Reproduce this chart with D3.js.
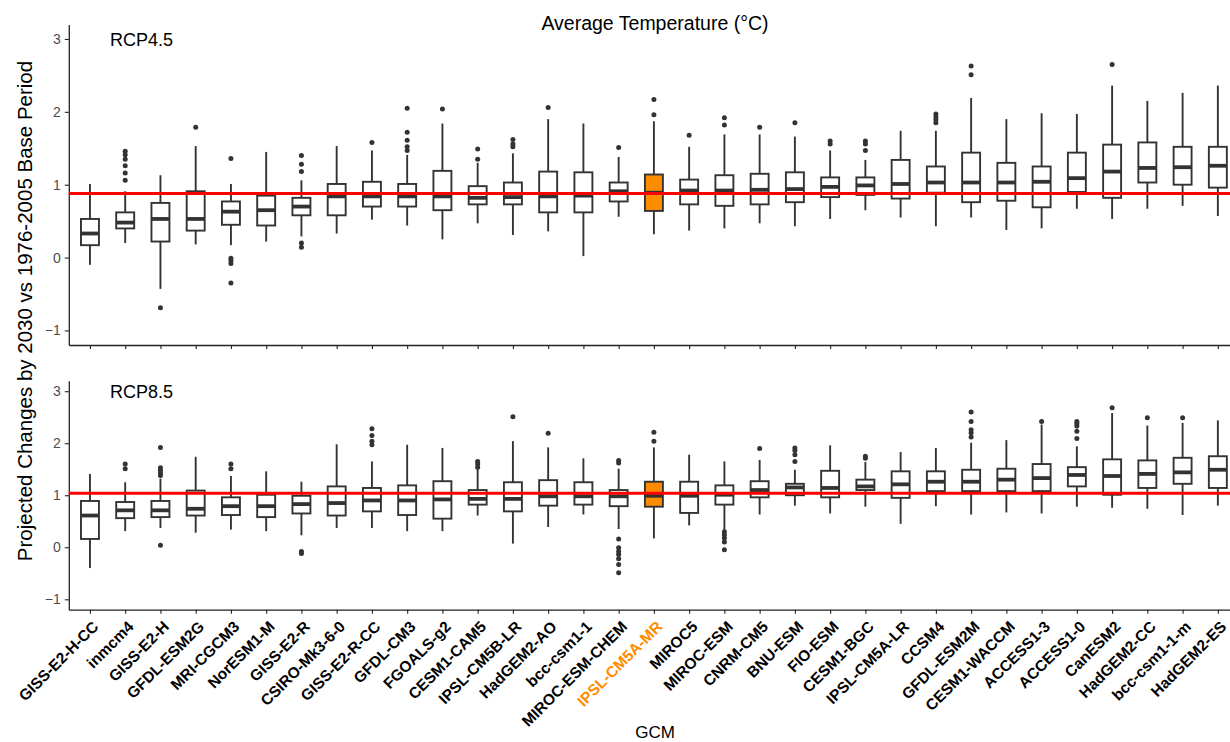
<!DOCTYPE html>
<html>
<head>
<meta charset="utf-8">
<script src="https://cdn.jsdelivr.net/npm/d3@7"></script>
<style>
  body { margin: 0; background: #fff; }
  svg { font-family: "Liberation Sans", Arial, sans-serif; }
</style>
</head>
<body>
<div id="chart"></div>
<script>
// GCM order on the x axis
var gcms = ["GISS-E2-H-CC", "inmcm4", "GISS-E2-H", "GFDL-ESM2G", "MRI-CGCM3", "NorESM1-M",
  "GISS-E2-R", "CSIRO-Mk3-6-0", "GISS-E2-R-CC", "GFDL-CM3", "FGOALS-g2", "CESM1-CAM5",
  "IPSL-CM5B-LR", "HadGEM2-AO", "bcc-csm1-1", "MIROC-ESM-CHEM", "IPSL-CM5A-MR", "MIROC5",
  "MIROC-ESM", "CNRM-CM5", "BNU-ESM", "FIO-ESM", "CESM1-BGC", "IPSL-CM5A-LR", "CCSM4",
  "GFDL-ESM2M", "CESM1-WACCM", "ACCESS1-3", "ACCESS1-0", "CanESM2", "HadGEM2-CC",
  "bcc-csm1-1-m", "HadGEM2-ES"];
var highlight = "IPSL-CM5A-MR";
var yTicks = [-1, 0, 1, 2, 3];

// RCP4.5 box statistics
var rcp45Low = [-0.10, 0.20, -0.43, 0.18, 0.17, 0.22, 0.29, 0.33, 0.52, 0.44, 0.25, 0.47,
  0.31, 0.36, 0.02, 0.56, 0.32, 0.37, 0.40, 0.47, 0.43, 0.53, 0.65, 0.55, 0.43, 0.55,
  0.38, 0.40, 0.67, 0.53, 0.67, 0.71, 0.57];
var rcp45Q1 = [0.17, 0.40, 0.22, 0.37, 0.45, 0.44, 0.58, 0.58, 0.70, 0.70, 0.65, 0.73,
  0.73, 0.62, 0.62, 0.77, 0.64, 0.73, 0.71, 0.73, 0.76, 0.83, 0.86, 0.81, 0.89, 0.76,
  0.78, 0.69, 0.90, 0.82, 1.03, 1.00, 0.96];
var rcp45Med = [0.33, 0.48, 0.53, 0.53, 0.63, 0.65, 0.70, 0.84, 0.84, 0.84, 0.84, 0.82,
  0.83, 0.84, 0.85, 0.91, 0.89, 0.92, 0.92, 0.93, 0.94, 0.97, 0.99, 1.01, 1.03, 1.03,
  1.03, 1.04, 1.09, 1.18, 1.23, 1.24, 1.26];
var rcp45Q3 = [0.53, 0.62, 0.75, 0.91, 0.77, 0.85, 0.82, 1.01, 1.04, 1.01, 1.19, 0.98,
  1.03, 1.18, 1.17, 1.03, 1.14, 1.07, 1.13, 1.15, 1.17, 1.10, 1.10, 1.34, 1.25, 1.44,
  1.30, 1.25, 1.44, 1.55, 1.58, 1.52, 1.52];
var rcp45High = [1.01, 0.91, 1.13, 1.53, 1.01, 1.45, 1.06, 1.53, 1.47, 1.41, 1.84, 1.30,
  1.43, 1.90, 1.84, 1.38, 1.87, 1.52, 1.69, 1.69, 1.66, 1.47, 1.34, 1.74, 1.74, 2.19,
  1.90, 1.98, 1.97, 2.36, 2.15, 2.26, 2.36];
var rcp45Out = [[], [1.46, 1.41, 1.35, 1.26, 1.16, 1.06], [-0.69], [1.79],
  [1.36, -0.01, -0.04, -0.08, -0.35], [], [1.40, 1.28, 1.18, 0.20, 0.14], [], [1.58],
  [2.05, 1.72, 1.61, 1.52, 1.47], [2.04], [1.49, 1.35], [1.62, 1.56, 1.52], [2.06], [],
  [1.51], [2.17, 1.96], [1.68], [1.92, 1.82], [1.79], [1.85], [1.60, 1.56],
  [1.60, 1.56, 1.47], [], [1.97, 1.93, 1.89, 1.85], [2.63, 2.51], [], [], [], [2.65],
  [], [], []];
var rcp45Ref = 0.88;

// RCP8.5 box statistics
var rcp85Low = [-0.40, 0.31, 0.37, 0.28, 0.34, 0.31, 0.23, 0.37, 0.37, 0.31, 0.31, 0.61,
  0.07, 0.39, 0.63, 0.35, 0.17, 0.42, 0.32, 0.63, 0.80, 0.65, 0.78, 0.45, 0.79, 0.63,
  0.67, 0.65, 0.78, 0.76, 0.74, 0.62, 0.80];
var rcp85Q1 = [0.16, 0.56, 0.58, 0.61, 0.62, 0.58, 0.65, 0.61, 0.69, 0.62, 0.55, 0.82,
  0.69, 0.80, 0.82, 0.79, 0.78, 0.66, 0.82, 0.96, 1.00, 0.96, 1.10, 0.95, 1.08, 1.08,
  1.08, 1.08, 1.17, 1.01, 1.14, 1.22, 1.14];
var rcp85Med = [0.61, 0.71, 0.71, 0.74, 0.79, 0.79, 0.83, 0.85, 0.90, 0.90, 0.92, 0.93,
  0.93, 0.98, 0.98, 0.98, 0.99, 0.99, 1.01, 1.10, 1.15, 1.14, 1.17, 1.21, 1.26, 1.26,
  1.30, 1.33, 1.39, 1.37, 1.41, 1.44, 1.49];
var rcp85Q3 = [0.89, 0.87, 0.89, 1.09, 0.96, 1.01, 0.99, 1.17, 1.14, 1.19, 1.27, 1.10,
  1.25, 1.29, 1.25, 1.10, 1.26, 1.26, 1.19, 1.27, 1.22, 1.47, 1.30, 1.46, 1.46, 1.49,
  1.51, 1.60, 1.54, 1.69, 1.67, 1.72, 1.75];
var rcp85High = [1.41, 1.25, 1.32, 1.74, 1.37, 1.46, 1.26, 1.98, 1.65, 1.97, 1.91, 1.51,
  2.04, 1.92, 1.71, 1.51, 1.92, 1.78, 1.65, 1.68, 1.49, 1.96, 1.64, 1.83, 1.91, 2.01,
  2.06, 2.36, 1.94, 2.58, 2.34, 2.39, 2.44];
var rcp85Out = [[], [1.60, 1.51], [1.92, 1.53, 1.48, 1.43, 1.38, 0.04], [], [1.60, 1.51],
  [], [-0.08, -0.12], [], [2.28, 2.15, 2.04, 1.97], [], [], [1.65, 1.60, 1.54], [2.51],
  [2.19], [], [1.67, 1.62, 0.16, -0.01, -0.08, -0.14, -0.22, -0.33, -0.49],
  [2.21, 2.04], [], [0.30, 0.24, 0.18, 0.10, -0.05], [1.90], [1.91, 1.86, 1.78, 1.65],
  [], [1.75, 1.71], [], [], [2.60, 2.42, 2.26, 2.20, 2.12], [], [2.42],
  [2.42, 2.38, 2.33, 2.23, 2.09], [2.68], [2.49], [2.49], []];
var rcp85Ref = 1.04;

var width = 1230, height = 742;
var svg = d3.select("#chart").append("svg")
  .attr("width", width).attr("height", height);

var x = d3.scalePoint().domain(gcms).range([68.8, 1239]).padding(0.6);
var boxW = x.step() * 0.51;
var ink = "#333333";

var panels = [
  { label: "RCP4.5", top: 24.4, bottom: 345, low: rcp45Low, q1: rcp45Q1, med: rcp45Med,
    q3: rcp45Q3, high: rcp45High, out: rcp45Out, ref: rcp45Ref },
  { label: "RCP8.5", top: 380.8, bottom: 609.7, low: rcp85Low, q1: rcp85Q1, med: rcp85Med,
    q3: rcp85Q3, high: rcp85High, out: rcp85Out, ref: rcp85Ref }
];

panels.forEach(function (p, pi) {
  var y = d3.scaleLinear().domain([-1.2, 3.2]).range([p.bottom, p.top]);
  var g = svg.append("g");

  // y axis
  var ya = g.append("g").attr("transform", "translate(" + x.range()[0] + ",0)")
    .call(d3.axisLeft(y).tickValues(yTicks).tickFormat(d3.format("d"))
      .tickSize(4).tickSizeOuter(0).tickPadding(4));
  ya.select(".domain").attr("stroke", "#222").attr("stroke-width", 1.3);
  ya.selectAll(".tick line").attr("stroke", "#222").attr("stroke-width", 1.1);
  ya.selectAll(".tick text").attr("fill", "#4d4d4d").style("font-size", "14px")
    .style("font-family", "'Liberation Sans', Arial, sans-serif");

  // x axis
  var xa = g.append("g").attr("transform", "translate(0," + p.bottom + ")")
    .call(d3.axisBottom(x).tickSize(4).tickSizeOuter(0));
  xa.select(".domain").attr("stroke", "#222").attr("stroke-width", 1.3);
  xa.selectAll(".tick line").attr("stroke", "#222").attr("stroke-width", 1.1);
  if (pi == 0) {
    xa.selectAll(".tick text").remove();
  } else {
    xa.selectAll(".tick text")
      .attr("text-anchor", "end")
      .attr("x", 0).attr("y", 0).attr("dy", 0)
      .attr("transform", "translate(9,18) rotate(-45)")
      .style("font-size", "15.5px").style("font-weight", "bold")
      .style("font-family", "'Liberation Sans', Arial, sans-serif")
      .attr("fill", function (d) { return d == highlight ? "#FF8C00" : "#000"; });
  }

  var rows = gcms.map(function (name, i) {
    return { name: name, low: p.low[i], q1: p.q1[i], med: p.med[i], q3: p.q3[i],
      high: p.high[i], out: p.out[i] };
  });

  var boxes = g.selectAll(".box").data(rows).enter().append("g").attr("class", "box");

  // whiskers
  boxes.append("line")
    .attr("x1", function (d) { return x(d.name) }).attr("x2", function (d) { return x(d.name) })
    .attr("y1", function (d) { return y(d.q3) }).attr("y2", function (d) { return y(d.high) })
    .attr("stroke", ink).attr("stroke-width", 1.9);
  boxes.append("line")
    .attr("x1", function (d) { return x(d.name) }).attr("x2", function (d) { return x(d.name) })
    .attr("y1", function (d) { return y(d.q1) }).attr("y2", function (d) { return y(d.low) })
    .attr("stroke", ink).attr("stroke-width", 1.9);

  // boxes
  boxes.append("rect")
    .attr("x", function (d) { return x(d.name) - boxW / 2 })
    .attr("y", function (d) { return y(d.q3) })
    .attr("width", boxW)
    .attr("height", function (d) { return y(d.q1) - y(d.q3) })
    .attr("fill", function (d) { return d.name == highlight ? "#FF8C00" : "#fff" })
    .attr("stroke", ink).attr("stroke-width", 1.9);

  // medians
  boxes.append("line")
    .attr("x1", function (d) { return x(d.name) - boxW / 2 })
    .attr("x2", function (d) { return x(d.name) + boxW / 2 })
    .attr("y1", function (d) { return y(d.med) }).attr("y2", function (d) { return y(d.med) })
    .attr("stroke", ink).attr("stroke-width", 3.8);

  // outliers
  boxes.selectAll("circle")
    .data(function (d) { return d.out.map(function (v) { return { name: d.name, v: v } }) })
    .enter().append("circle")
    .attr("cx", function (d) { return x(d.name) })
    .attr("cy", function (d) { return y(d.v) })
    .attr("r", 2.5).attr("fill", ink);

  // reference line
  g.append("line")
    .attr("x1", x.range()[0]).attr("x2", width)
    .attr("y1", y(p.ref)).attr("y2", y(p.ref))
    .attr("stroke", "#ff0000").attr("stroke-width", 3);

  // panel label
  g.append("text")
    .attr("x", 110).attr("y", y(3) + 7)
    .style("font-size", "18px").attr("fill", "#000")
    .text(p.label);
});

// titles
svg.append("text")
  .attr("x", 655).attr("y", 30)
  .attr("text-anchor", "middle")
  .style("font-size", "19.5px")
  .text("Average Temperature (°C)");

svg.append("text")
  .attr("transform", "translate(32,311) rotate(-90)")
  .attr("text-anchor", "middle")
  .style("font-size", "20.5px")
  .text("Projected Changes by 2030 vs 1976-2005 Base Period");

svg.append("text")
  .attr("x", 655).attr("y", 738)
  .attr("text-anchor", "middle")
  .style("font-size", "17px")
  .text("GCM");
</script>
</body>
</html>
